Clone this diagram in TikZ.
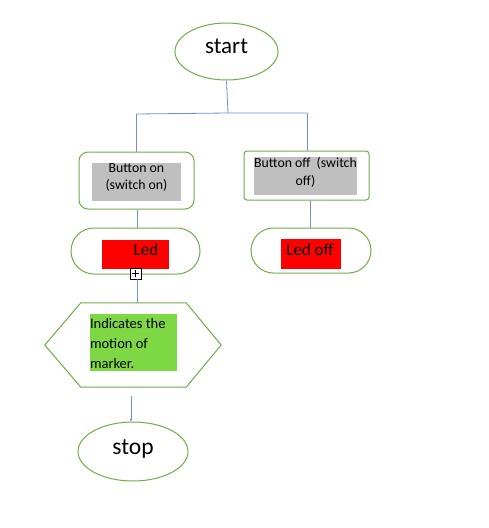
\documentclass[tikz,border=0pt]{standalone}
\usepackage{fontspec}
\setmainfont{Carlito}
\usetikzlibrary{shapes.geometric,arrows.meta}
\definecolor{lgreen}{HTML}{70AD47}
\definecolor{lblue}{HTML}{6F8FD6}
\definecolor{lgray}{HTML}{BFBFBF}
\definecolor{fgreen}{HTML}{7ED843}
\tikzset{
  oval/.style={ellipse, draw=lgreen, line width=1pt, inner sep=0pt},
  boxo/.style={rectangle, draw=lgreen, line width=1pt, inner sep=0pt},
  fillbox/.style={rectangle, inner sep=0pt, draw=none},
  conn/.style={draw=lblue, line width=0.8pt},
  lbl/.style={inner sep=0pt, align=center}
}
\begin{document}
\begin{tikzpicture}[x=1pt,y=-1pt]
\useasboundingbox[fill=white] (0,0) rectangle (489,528);
% start
\node[oval, minimum width=103pt, minimum height=57pt] (start) at (226.5,51.5) {};
\node[lbl, font=\fontsize{23}{26}\selectfont] (tstart) at (226.5,46.5) {start};
% button on
\node[boxo, rounded corners=9pt, minimum width=115pt, minimum height=57pt] (b1) at (136.5,180.5) {};
\node[fillbox, fill=lgray, minimum width=89pt, minimum height=38pt] (g1) at (136.5,182) {};
\node[lbl, font=\fontsize{13.8}{17}\selectfont] (t1) at (136.5,177.5) {Button on\\(switch on)};
% button off
\node[boxo, rounded corners=3pt, minimum width=125pt, minimum height=49pt] (b2) at (306.5,175.5) {};
\node[fillbox, fill=lgray, minimum width=103pt, minimum height=38pt] (g2) at (305.5,176) {};
\node[lbl, font=\fontsize{13.8}{18}\selectfont] (t2) at (305.5,172) {Button off\ \ (switch\\off)};
% led
\node[boxo, rounded corners=23pt, minimum width=129pt, minimum height=46pt] (led) at (135.5,251) {};
\node[fillbox, fill=red, minimum width=67pt, minimum height=29pt] (r1) at (135.5,254.5) {};
\node[lbl, font=\fontsize{17}{20}\selectfont] (t3) at (146,250) {Led};
% led off
\node[boxo, rounded corners=22.5pt, minimum width=120pt, minimum height=45pt] (ledoff) at (311,250.5) {};
\node[fillbox, fill=red, minimum width=60pt, minimum height=30pt] (r2) at (311,254) {};
\node[lbl, font=\fontsize{17}{20}\selectfont] (t4) at (310,250) {Led off};
% hexagon
\node[inner sep=0pt, minimum width=176pt, minimum height=84pt] (hex) at (133,345) {};
\draw[lgreen, line width=1pt] (hex.west) -- ([xshift=36pt]hex.north west) -- ([xshift=-35pt]hex.north east) -- (hex.east) -- ([xshift=-35pt]hex.south east) -- ([xshift=36pt]hex.south west) -- cycle;
\node[fillbox, fill=fgreen, minimum width=87pt, minimum height=57pt] (gf) at (133.5,342.5) {};
\node[inner sep=0pt, text width=87pt, align=flush left, font=\fontsize{14.5}{20}\selectfont] (t5) at (133.5,344) {Indicates the\\motion of\\marker.};
% stop
\node[oval, minimum width=110pt, minimum height=59pt] (stop) at (133,451.5) {};
\node[lbl, font=\fontsize{23.5}{26}\selectfont] (tstop) at (133,448.5) {stop};
% connectors
\coordinate (fork) at (228,113);
\coordinate (forkl) at (136,114);
\coordinate (forkr) at (307,113);
\draw[conn] (start.south) -- (fork);
\draw[conn] (forkl) -- (fork) -- (forkr);
\draw[conn] (forkl) -- (forkl |- b1.north);
\draw[conn] (forkr) -- (forkr |- b2.north);
\draw[conn] (b1.south -| 137,0) -- (led.north -| 137,0);
\draw[conn] (b2.south -| 310,0) -- (ledoff.north -| 310,0);
\node[rectangle, draw=black, fill=white, line width=0.6pt, minimum size=11pt, inner sep=0pt,
  path picture={\draw[line width=0.6pt] ([xshift=2pt]path picture bounding box.west) -- ([xshift=-2pt]path picture bounding box.east);
  \draw[line width=0.6pt] ([yshift=-2pt]path picture bounding box.north) -- ([yshift=2pt]path picture bounding box.south);}] (plus) at (135.5,273.5) {};
\draw[conn] (plus.south -| 137,0) -- (hex.north -| 137,0);
\coordinate (s0) at (131,396);
\draw[conn, -{Stealth[length=3pt,width=2.5pt]}] (s0) -- (stop.north -| 131,0);
\end{tikzpicture}
\end{document}
